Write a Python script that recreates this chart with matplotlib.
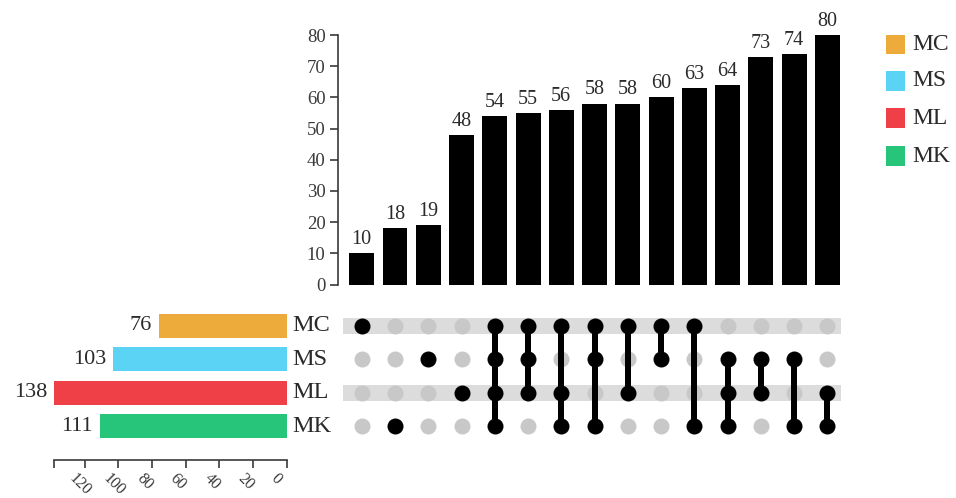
import matplotlib
matplotlib.use("Agg")
import matplotlib.pyplot as plt
from matplotlib.patches import Rectangle

# ---- data ----
sets = ["MC", "MS", "ML", "MK"]
set_sizes = [76, 103, 138, 111]
set_colors = ["#EDAB3C", "#5BD3F5", "#EF4048", "#26C57A"]
intersection_sizes = [10, 18, 19, 48, 54, 55, 56, 58, 58, 60, 63, 64, 73, 74, 80]
memberships = [
    ["MC"], ["MK"], ["MS"], ["ML"],
    ["MC", "MS", "ML", "MK"], ["MC", "MS", "ML"], ["MC", "ML", "MK"],
    ["MC", "MS", "MK"], ["MC", "ML"], ["MC", "MS"], ["MC", "MK"],
    ["MS", "ML", "MK"], ["MS", "ML"], ["MS", "MK"], ["ML", "MK"],
]
bar_ticks = [0, 10, 20, 30, 40, 50, 60, 70, 80]
set_ticks = [0, 20, 40, 60, 80, 100, 120]

plt.rcParams["font.family"] = ["Liberation Serif", "DejaVu Serif"]
TXT = "#2a2a2a"
TICK = "#3a3a3a"

W, H = 956, 498
fig = plt.figure(figsize=(W / 100, H / 100), dpi=100)


def rect(x0, y0, x1, y1):
    return [x0 / W, 1 - y1 / H, (x1 - x0) / W, (y1 - y0) / H]


PX = 72 / 100  # points per pixel
n = len(intersection_sizes)
xl = (-0.57, n - 1 + 0.41)

# ---- intersection bars ----
axb = fig.add_axes(rect(342.8, 35, 841, 284.5))
xs = list(range(n))
axb.bar(xs, intersection_sizes, width=0.75, color="black")
for x, v in zip(xs, intersection_sizes):
    axb.annotate(str(v), (x, v), xytext=(0, 3), textcoords="offset points",
                 ha="center", va="bottom", fontsize=14.5, color=TXT)
axb.set_xlim(*xl)
axb.set_ylim(0, 80)
axb.set_yticks(bar_ticks)
axb.tick_params(axis="y", direction="out", length=8 * PX, width=1.2,
                labelsize=13.5, colors=TICK, pad=3)
axb.set_xticks([])
for s in ["top", "right", "bottom"]:
    axb.spines[s].set_visible(False)
axb.spines["left"].set_position(("outward", 5 * PX))
axb.spines["left"].set_linewidth(1.2)
axb.spines["left"].set_color(TICK)
axb.patch.set_alpha(0)

# ---- matrix ----
axm = fig.add_axes(rect(342.8, 309.3, 841, 442.7))
axm.set_xlim(*xl)
axm.set_ylim(len(sets) - 0.5, -0.5)
for i, s in enumerate(sets):
    if i % 2 == 0:
        axm.axhspan(i - 0.24, i + 0.24, color="#DCDCDC", lw=0, zorder=0)
for j, mem in enumerate(memberships):
    rows = [sets.index(m) for m in mem]
    for i in range(len(sets)):
        if i not in rows:
            axm.scatter(j, i, s=(16 * PX) ** 2, color="#C8C8C8", lw=0, zorder=2)
    if len(rows) > 1:
        axm.plot([j, j], [min(rows), max(rows)], color="black",
                 lw=6 * PX, solid_capstyle="butt", zorder=3)
    axm.scatter([j] * len(rows), rows, s=(16 * PX) ** 2, color="black",
                lw=0, zorder=4)
axm.axis("off")

# ---- set size bars ----
axs = fig.add_axes(rect(54.3, 309.3, 286.7, 442.7))
ys = list(range(len(sets)))
axs.barh(ys, set_sizes, height=0.72, color=set_colors)
axs.set_xlim(max(set_sizes), 0)
axs.set_ylim(len(sets) - 0.5, -0.5)
for y, v in zip(ys, set_sizes):
    axs.annotate(str(v), (v, y), xytext=(-5, 0), textcoords="offset points",
                 ha="right", va="center", fontsize=16, color=TXT)
for y, s in zip(ys, sets):
    axs.annotate(s, (0, y), xytext=(6 * PX, 0), textcoords="offset points",
                 ha="left", va="center", fontsize=17.5, color=TXT)
axs.set_yticks([])
axs.set_xticks(set_ticks)
axs.set_xticks([max(set_sizes)], minor=True)
axs.tick_params(axis="x", which="both", direction="out", length=8 * PX,
                width=1.2, colors=TICK, labelbottom=False)
OUT = 17.3  # px between axes bottom and axis line
for s in ["top", "right", "left"]:
    axs.spines[s].set_visible(False)
axs.spines["bottom"].set_position(("outward", OUT * PX))
axs.spines["bottom"].set_linewidth(1.2)
axs.spines["bottom"].set_color(TICK)
axs.patch.set_alpha(0)
# rotated tick labels (start-anchored, as in the reference)
for v in set_ticks:
    axs.annotate(str(v), (v, 0), xycoords=("data", "axes fraction"),
                 xytext=(-13 * PX, -(OUT + 16) * PX), textcoords="offset points",
                 rotation=-45, rotation_mode="anchor", ha="left", va="center",
                 fontsize=11.5, color=TICK, annotation_clip=False)

# ---- legend ----
leg_y = [45, 81, 118, 156]
for yc, s, c in zip(leg_y, sets, set_colors):
    fig.add_artist(Rectangle((886 / W, 1 - (yc + 9.5) / H), 19 / W, 19 / H,
                             transform=fig.transFigure, color=c, lw=0))
    fig.text(912 / W, 1 - yc / H, s, ha="left", va="center",
             fontsize=17, color=TXT)

fig.savefig("out.png", dpi=100)
